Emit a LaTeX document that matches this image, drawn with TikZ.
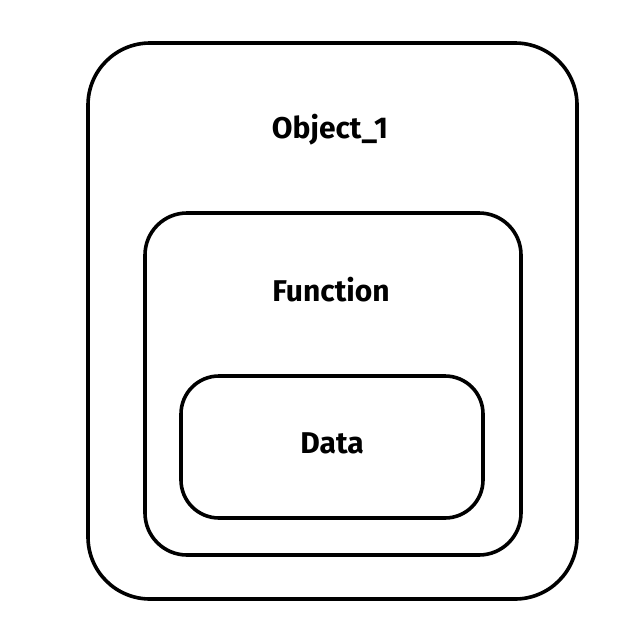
\documentclass[tikz,border=0pt]{standalone}
\usepackage{fontspec}
\setmainfont{Fira Sans}
\begin{document}
\begin{tikzpicture}[x=1pt,y=-1pt,
  box/.style={draw=black, line width=3.6pt, rounded corners=#1},
  lbl/.style={font=\fontsize{30}{34}\selectfont\bfseries, text=black}]
\useasboundingbox (0,0) rectangle (630,640);
\draw[box=62pt] (88,43) rectangle (577,599);
\draw[box=42pt] (145,213) rectangle (521,555);
\draw[box=38pt] (181,376) rectangle (483,518);
\node[lbl] (obj) at (330,130) {Object\_1};
\node[lbl] (fun) at (331,290) {Function};
\node[lbl] (dat) at (332,443) {Data};
\end{tikzpicture}
\end{document}
